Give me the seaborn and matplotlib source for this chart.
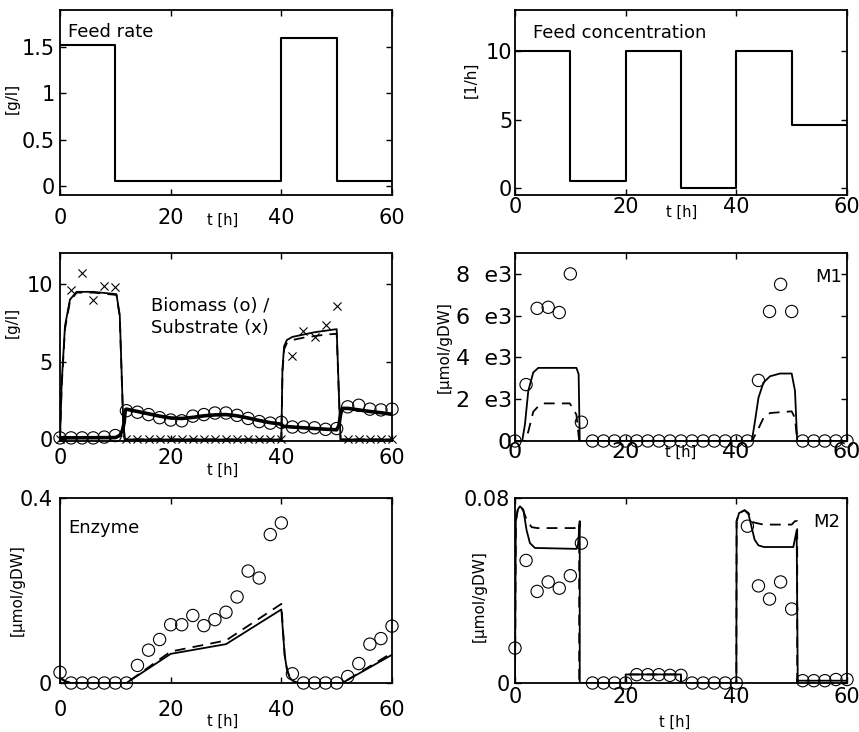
import matplotlib
matplotlib.use("Agg")
import matplotlib.pyplot as plt
import seaborn as sns

sns.set_style("white", rc={"axes.edgecolor": "black", "text.color": "black",
                           "axes.labelcolor": "black", "xtick.color": "black",
                           "ytick.color": "black"})
plt.rcParams["font.family"] = ["DejaVu Sans"]

# ---------------- data ----------------
# inputs (piecewise constant)
feed_t = [0, 10, 40, 50, 60]
feed_rate = [1.52, 0.05, 1.6, 0.05, 0.05]
conc_t = [0, 10, 20, 30, 40, 50, 60]
feed_conc = [10, 0.5, 10, 0, 10, 4.6, 4.6]

# measurements, every 2 h
t_obs = [0, 2, 4, 6, 8, 10, 12, 14, 16, 18, 20, 22, 24, 26, 28, 30,
         32, 34, 36, 38, 40, 42, 44, 46, 48, 50, 52, 54, 56, 58, 60]
biomass_obs = [0.1, 0.1, 0.1, 0.1, 0.15, 0.25, 1.85, 1.75, 1.6, 1.4, 1.25,
               1.2, 1.5, 1.6, 1.7, 1.7, 1.55, 1.35, 1.15, 1.05, 1.1,
               0.8, 0.8, 0.75, 0.65, 0.7, 2.1, 2.2, 1.95, 1.9, 1.95]
substrate_obs = [0, 9.6, 10.7, 9.0, 9.9, 9.8, 0, 0, 0, 0, 0, 0, 0, 0, 0, 0,
                 0, 0, 0, 0, 0, 5.4, 7.0, 6.6, 7.35, 8.6, 0, 0, 0, 0, 0]
m1_obs = [0, 2700, 6350, 6400, 6150, 8000, 900, 0, 0, 0, 0, 0, 0, 0, 0, 0,
          0, 0, 0, 0, 0, 0, 2900, 6200, 7500, 6200, 0, 0, 0, 0, 0]
enzyme_obs = [0.023, 0, 0, 0, 0, 0, 0, 0.038, 0.071, 0.094, 0.126, 0.126,
              0.146, 0.124, 0.137, 0.153, 0.186, 0.242, 0.227, 0.321, 0.346,
              0.02, 0, 0, 0, 0, 0.014, 0.042, 0.084, 0.096, 0.123]
m2_obs = [0.0151, 0.053, 0.0396, 0.0437, 0.041, 0.0464, 0.0605, 0, 0, 0, 0,
          0.0036, 0.0036, 0.0036, 0.0033, 0.0033, 0, 0, 0, 0, 0,
          0.0678, 0.042, 0.0363, 0.0437, 0.032, 0.001, 0.001, 0.001, 0.0015, 0.0015]

# model curves: "a" = solid, "b" = dashed
subs_t = [0, 0.3, 0.9, 1.8, 3, 6, 10.2, 10.8, 11.1, 11.4, 11.7, 40, 40.2, 40.5,
          41, 42, 44, 46, 48, 50, 50.3, 50.7, 60]
subs_a = [0, 3.6, 7.3, 9.0, 9.5, 9.5, 9.35, 8.0, 4.7, 1.4, 0, 0, 4.5, 6.0,
          6.4, 6.6, 6.75, 6.9, 7.0, 7.1, 4.0, 0, 0]
subs_b = [0, 3.4, 7.1, 8.9, 9.45, 9.45, 9.3, 7.9, 4.6, 1.3, 0, 0, 4.3, 5.8,
          6.2, 6.4, 6.55, 6.65, 6.75, 6.8, 3.9, 0, 0]

bio_t = [0, 10, 10.8, 11.3, 11.6, 11.8, 12, 14, 16, 18, 20, 22, 24, 26, 28, 30,
         32, 34, 36, 38, 40, 40.3, 42, 44, 46, 48, 50, 50.4, 50.7, 51,
         52, 54, 56, 58, 60]
bio_a = [0.1, 0.12, 0.25, 0.6, 1.1, 1.9, 1.95, 1.8, 1.65, 1.5, 1.38, 1.35,
         1.42, 1.52, 1.58, 1.6, 1.52, 1.38, 1.22, 1.08, 0.98, 0.85, 0.8, 0.75,
         0.7, 0.66, 0.62, 0.9, 1.6, 2.0, 2.0, 1.9, 1.8, 1.72, 1.62]

m1_t = [0, 1.3, 1.8, 2.4, 3.3, 4.2, 11.1, 11.5, 11.7, 42.8, 43.4, 44.0, 44.9,
        46.1, 47.9, 50.0, 50.6, 51.0, 60]
m1_a = [0, 0, 800, 2400, 3280, 3500, 3500, 3200, 0, 0, 1000, 2070, 2800,
        3100, 3230, 3230, 2400, 0, 0]
m1_bt = [0, 1.8, 2.4, 3.3, 4.2, 5.1, 9.9, 11.1, 11.6, 42.8, 43.1, 44.0, 44.9,
         46.1, 50.0, 50.6, 51.0, 60]
m1_b = [0, 0, 450, 1400, 1660, 1800, 1800, 1260, 0, 0, 130, 600, 1100, 1340,
        1420, 1100, 0, 0]

enz_t = [0, 1, 2, 12, 20, 30, 40, 40.3, 40.6, 41, 41.5, 42, 43, 51, 60]
enz_a = [0.01, 0.003, 0, 0, 0.063, 0.084, 0.159, 0.11, 0.06, 0.03, 0.012,
         0.005, 0, 0, 0.061]
enz_b = [0.012, 0.004, 0, 0, 0.068, 0.092, 0.171, 0.115, 0.062, 0.031, 0.012,
         0.005, 0, 0, 0.065]

m2_t = [0, 0.15, 0.5, 0.9, 1.5, 2.1, 2.7, 3.6, 11.1, 11.4, 11.7, 11.7, 20, 20,
        30, 30, 40, 40.05, 40.5, 41.5, 42.2, 42.8, 43.3, 44, 45, 50.3, 50.9,
        51.1, 51.1, 60]
m2_a = [0, 0.07, 0.075, 0.0764, 0.075, 0.066, 0.0605, 0.0584, 0.058, 0.06,
        0.07, 0, 0, 0.0037, 0.0037, 0, 0, 0.07, 0.0735, 0.0747, 0.073, 0.067,
        0.062, 0.0595, 0.0588, 0.0588, 0.066, 0, 0.001, 0.001]
m2_bt = [0, 0.15, 0.5, 0.9, 1.5, 2.1, 3.0, 4.0, 10.8, 11.3, 11.6, 11.6, 20, 20,
         30, 30, 40, 40.05, 40.5, 41.5, 42.2, 43.0, 44.9, 50.0, 50.6, 51.0,
         51.0, 60]
m2_b = [0, 0.07, 0.075, 0.0764, 0.0745, 0.0706, 0.0674, 0.067, 0.067, 0.069,
        0.069, 0, 0, 0.0037, 0.0037, 0, 0, 0.07, 0.0735, 0.0747, 0.0735,
        0.0695, 0.0685, 0.0685, 0.07, 0.07, 0, 0]

# ---------------- figure ----------------
W, H = 859, 732
fig = plt.figure(figsize=(W / 100, H / 100), dpi=100)


def add_ax(x0, y0, x1, y1):
    # pixel box -> figure fraction
    return fig.add_axes([x0 / W, 1 - y1 / H, (x1 - x0) / W, (y1 - y0) / H])


def style(ax, xpad, ypad, size=15):
    ax.set_xlim(0, 60)
    ax.set_xticks([0, 20, 40, 60])
    ax.tick_params(direction="in", top=True, right=True, bottom=True, left=True,
                   length=4, width=1, labelsize=size)
    ax.tick_params(axis="x", pad=xpad)
    ax.tick_params(axis="y", pad=ypad)
    for s in ax.spines.values():
        s.set_linewidth(1.3)
        s.set_visible(True)


def labels(ax, ylab, xl, yl):
    ax.set_xlabel("t [h]", fontsize=10.5)
    ax.set_ylabel(ylab, fontsize=11)
    ax.xaxis.set_label_coords(*xl)
    ax.yaxis.set_label_coords(*yl)


def line(ax, x, y, dashed=False, lw=1.3):
    sns.lineplot(x=x, y=y, ax=ax, color="k", lw=lw, estimator=None, sort=False,
                 linestyle=(0, (6, 4)) if dashed else "-")


def circles(ax, x, y):
    sns.scatterplot(x=x, y=y, ax=ax, marker="o", s=78, facecolor="none",
                    edgecolor="k", linewidth=0.8, clip_on=False, zorder=3)


lx0, lx1, rx0, rx1 = 60, 392, 515, 847

# --- Feed rate ---
ax1 = add_ax(lx0, 10, lx1, 195)
sns.lineplot(x=feed_t, y=feed_rate, ax=ax1, color="k", lw=1.5,
             drawstyle="steps-post", estimator=None, sort=False)
ax1.set_ylim(-0.1, 1.9)
ax1.set_yticks([0, 0.5, 1, 1.5], ["0", "0.5", "1", "1.5"])
style(ax1, 9, 3.5)
labels(ax1, "[g/l]", (0.49, -0.095), (-0.12, 0.52))
ax1.text(0.025, 0.855, "Feed rate", transform=ax1.transAxes, fontsize=13,
         va="baseline")

# --- Feed concentration ---
ax2 = add_ax(rx0, 10, rx1, 195)
sns.lineplot(x=conc_t, y=feed_conc, ax=ax2, color="k", lw=1.5,
             drawstyle="steps-post", estimator=None, sort=False)
ax2.set_ylim(-0.5, 13)
ax2.set_yticks([0, 5, 10])
style(ax2, 1.5, 2)
labels(ax2, "[1/h]", (0.503, -0.052), (-0.111, 0.62))
ax2.text(0.054, 0.85, "Feed concentration", transform=ax2.transAxes,
         fontsize=13, va="baseline")

# --- Biomass / Substrate ---
ax3 = add_ax(lx0, 253, lx1, 441)
line(ax3, subs_t, subs_a)
line(ax3, subs_t, subs_b, dashed=True)
line(ax3, bio_t, bio_a, lw=2.6)
line(ax3, bio_t, bio_a, dashed=True, lw=1.6)
circles(ax3, t_obs, biomass_obs)
sns.scatterplot(x=t_obs, y=substrate_obs, ax=ax3, marker="x", s=34,
                color="k", linewidth=0.8, clip_on=False, zorder=3)
ax3.set_ylim(-0.1, 12)
ax3.set_yticks([0, 5, 10])
style(ax3, 5, 5)
labels(ax3, "[g/l]", (0.49, -0.115), (-0.12, 0.63))
ax3.text(0.452, 0.765, "Biomass (o) /\nSubstrate (x)", transform=ax3.transAxes,
         fontsize=13, va="top", ha="center", multialignment="left",
         linespacing=1.3)

# --- M1 ---
ax4 = add_ax(rx0, 253, rx1, 441)
line(ax4, m1_t, m1_a)
line(ax4, m1_bt, m1_b, dashed=True)
circles(ax4, t_obs, m1_obs)
ax4.set_ylim(0, 9000)
ax4.set_yticks([0, 2000, 4000, 6000, 8000],
               ["0", "2  e3", "4  e3", "6  e3", "8  e3"])
style(ax4, 0.7, 2, size=16)
labels(ax4, "[\u00b5mol/gDW]", (0.5, -0.02), (-0.191, 0.5))
ax4.text(0.985, 0.846, "M1", transform=ax4.transAxes, fontsize=13,
         va="baseline", ha="right")

# --- Enzyme ---
ax5 = add_ax(lx0, 498, lx1, 683)
line(ax5, enz_t, enz_a)
line(ax5, enz_t, enz_b, dashed=True)
circles(ax5, t_obs, enzyme_obs)
ax5.set_ylim(0, 0.4)
ax5.set_yticks([0, 0.4], ["0", "0.4"])
style(ax5, 12, 5.5)
labels(ax5, "[\u00b5mol/gDW]", (0.49, -0.165), (-0.105, 0.5))
ax5.text(0.025, 0.81, "Enzyme", transform=ax5.transAxes, fontsize=13,
         va="baseline")

# --- M2 ---
ax6 = add_ax(rx0, 498, rx1, 683)
line(ax6, m2_t, m2_a)
line(ax6, m2_bt, m2_b, dashed=True)
circles(ax6, t_obs, m2_obs)
ax6.set_ylim(0, 0.08)
ax6.set_yticks([0, 0.08], ["0", "0.08"])
style(ax6, 3, 3.5)
labels(ax6, "[\u00b5mol/gDW]", (0.48, -0.17), (-0.085, 0.47))
ax6.text(0.979, 0.843, "M2", transform=ax6.transAxes, fontsize=13,
         va="baseline", ha="right")

fig.savefig("out.png", dpi=100)
